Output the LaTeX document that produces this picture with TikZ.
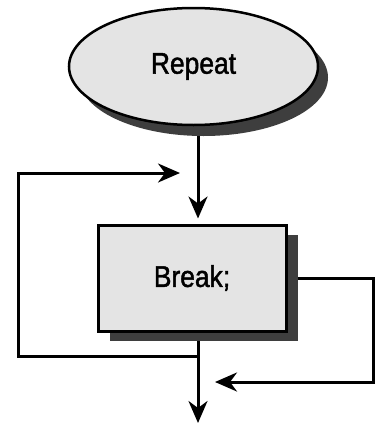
\documentclass[tikz,border=0pt]{standalone}
\usepackage{fontspec}
\setmainfont{Liberation Sans}[FakeStretch=0.88,FakeBold=1.5]
\usetikzlibrary{shapes.geometric,shadows,arrows.meta,backgrounds}
\definecolor{boxfill}{HTML}{E4E4E4}
\definecolor{shadowgray}{HTML}{3E3E3E}
\begin{document}
\begin{tikzpicture}[x=1pt,y=-1pt,
  shapebox/.style={draw=black, fill=boxfill, font=\fontsize{30}{36}\selectfont, inner sep=0pt},
  ellshadow/.style={drop shadow={shadow xshift=10pt, shadow yshift=-11pt, fill=shadowgray, opacity=1}},
  boxshadow/.style={drop shadow={shadow xshift=12pt, shadow yshift=-10pt, fill=shadowgray, opacity=1}},
  conn/.style={line width=3pt, -{Stealth[length=22pt,width=19pt,inset=7pt]}}]
\useasboundingbox (0,0) rectangle (375,423);
\node[shapebox, ellipse, line width=2.5pt, minimum width=249pt, minimum height=117pt, ellshadow] (rep) at (193.5,66.5) {Repeat};
\node[shapebox, rectangle, line width=3pt, minimum width=188pt, minimum height=106pt, boxshadow] (brk) at (192,278) {Break;};
\coordinate (mx) at (198,0);
\coordinate (j1) at (198,356);
\coordinate (l1) at (18,356);
\coordinate (l2) at (18,173);
\coordinate (t1) at (180,173);
\coordinate (bot) at (198,423);
\coordinate (r2) at (373.5,382);
\coordinate (t2) at (215,382);
\begin{scope}[on background layer]
\draw[conn, shorten >=5pt] (rep.south -| mx) -- (brk.north -| mx);
\draw[conn] (brk.south -| mx) -- (bot);
\draw[conn] (j1) -- (l1) -- (l2) -- (t1);
\draw[conn] (brk.east) -- (brk.east -| r2) -- (r2) -- (t2);
\end{scope}
\end{tikzpicture}
\end{document}
